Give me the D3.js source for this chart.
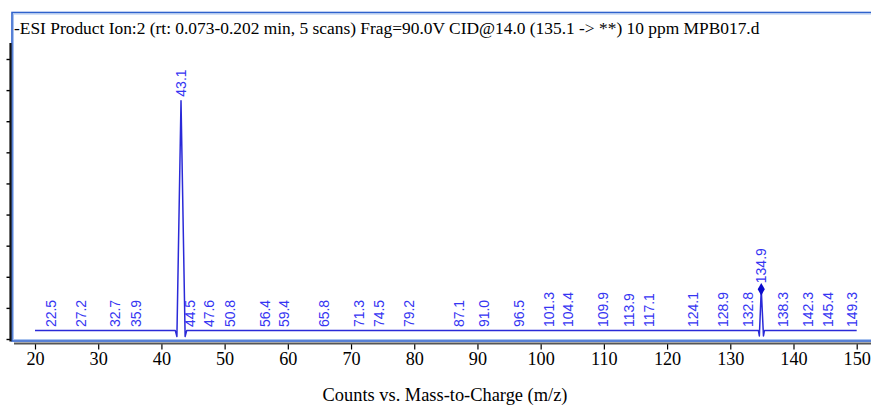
<!DOCTYPE html>
<html>
<head>
<meta charset="utf-8">
<script src="https://cdn.jsdelivr.net/npm/d3@7"></script>
<style>
  html, body { margin: 0; padding: 0; background: #ffffff; }
  svg { display: block; }
</style>
</head>
<body>
<svg id="chart" width="871" height="406"></svg>
<script>
// Product ion spectrum, -ESI, precursor 135.1
const titleText = "-ESI Product Ion:2 (rt: 0.073-0.202 min, 5 scans) Frag=90.0V CID@14.0 (135.1 -> **) 10 ppm MPB017.d";
const xAxisTitle = "Counts vs. Mass-to-Charge (m/z)";

// Profile trace (m/z, counts in arbitrary units)
const profileMz     = [20, 42.2, 42.45, 43.1, 43.75, 44.0, 134.45, 134.6, 134.9, 135.25, 135.4, 150];
const profileCounts = [0.27, 0.27, 0.08, 7.66, 0.08, 0.27, 0.27, 0.1, 1.6, 0.1, 0.27, 0.27];

// Labelled centroid peaks
const peakMz = [22.5, 27.2, 32.7, 35.9, 43.1, 44.5, 47.6, 50.8, 56.4, 59.4, 65.8, 71.3, 74.5, 79.2,
                87.1, 91.0, 96.5, 101.3, 104.4, 109.9, 113.9, 117.1, 124.1, 128.9, 132.8, 134.9,
                138.3, 142.3, 145.4, 149.3];
const peakLabels = ["22.5", "27.2", "32.7", "35.9", "43.1", "44.5", "47.6", "50.8", "56.4", "59.4",
                    "65.8", "71.3", "74.5", "79.2", "87.1", "91.0", "96.5", "101.3", "104.4", "109.9",
                    "113.9", "117.1", "124.1", "128.9", "132.8", "134.9", "138.3", "142.3", "145.4", "149.3"];
const peakCounts = [0.27, 0.27, 0.27, 0.27, 7.66, 0.27, 0.27, 0.27, 0.27, 0.27, 0.27, 0.27, 0.27, 0.27,
                    0.27, 0.27, 0.27, 0.27, 0.27, 0.27, 0.27, 0.27, 0.27, 0.27, 0.27, 1.6,
                    0.27, 0.27, 0.27, 0.27];
// Precursor ion marker
const precursorMz = [134.9];
const precursorCounts = [1.6];

const xTicks = [20, 30, 40, 50, 60, 70, 80, 90, 100, 110, 120, 130, 140, 150];
const yTicks = [0, 1, 2, 3, 4, 5, 6, 7, 8, 9];

const svg = d3.select("#chart");
const W = 871, H = 406;

const x = d3.scaleLinear().domain([20, 150]).range([35, 856.7]);
const y = d3.scaleLinear().domain([0, 9]).range([339, 59]);

const serif = "'Liberation Serif', 'Times New Roman', serif";
const sans = "'Liberation Sans', Arial, sans-serif";

// Plot frame
svg.append("rect")
  .attr("x", 12).attr("y", 12.5).attr("width", W + 10).attr("height", 328.5)
  .attr("fill", "none").attr("stroke", "#2f62cc").attr("stroke-width", 1.6);
svg.append("rect")
  .attr("x", 13.5).attr("y", 14).attr("width", W + 10).attr("height", 325.5)
  .attr("fill", "none").attr("stroke", "#a9c3ee").attr("stroke-width", 1);

// Title
svg.append("text")
  .attr("x", 14).attr("y", 34)
  .attr("font-family", serif).attr("font-size", 17.4)
  .attr("fill", "#000")
  .text(titleText);

// Y axis (unlabelled ticks)
const yAxis = d3.axisLeft(y).tickValues(yTicks).tickSize(4).tickFormat("");
const yg = svg.append("g").attr("transform", "translate(10.5,0)").call(yAxis);
yg.select(".domain").remove();
yg.selectAll(".tick line").attr("stroke", "#000").attr("stroke-width", 1.4);
svg.append("line")
  .attr("x1", 10.5).attr("x2", 10.5).attr("y1", 43).attr("y2", 341.5)
  .attr("stroke", "#111").attr("stroke-width", 2.2);

// X axis
const xAxis = d3.axisBottom(x).tickValues(xTicks).tickSize(6).tickPadding(3).tickFormat(d3.format("d"));
const xg = svg.append("g").attr("transform", "translate(0,343.5)").call(xAxis);
xg.select(".domain").remove();
xg.selectAll(".tick line").attr("stroke", "#000").attr("stroke-width", 1.2);
xg.selectAll(".tick text")
  .attr("font-family", serif).attr("font-size", 18.2).attr("fill", "#000");
svg.append("line")
  .attr("x1", 14).attr("x2", W).attr("y1", 343.5).attr("y2", 343.5)
  .attr("stroke", "#555").attr("stroke-width", 2);

// X axis title
svg.append("text")
  .attr("x", 445).attr("y", 401)
  .attr("text-anchor", "middle")
  .attr("font-family", serif).attr("font-size", 18.4).attr("fill", "#000")
  .text(xAxisTitle);

// Spectrum trace
const profile = profileMz.map((m, i) => [m, profileCounts[i]]);
const line = d3.line().x(d => x(d[0])).y(d => y(d[1]));
svg.append("path")
  .attr("d", line(profile))
  .attr("fill", "none")
  .attr("stroke", "#2a2ad8")
  .attr("stroke-width", 1.5)
  .attr("stroke-linejoin", "round");

// Precursor diamond
svg.selectAll(".prec")
  .data(precursorMz.map((m, i) => [m, precursorCounts[i]]))
  .join("path")
  .attr("class", "prec")
  .attr("transform", d => `translate(${x(d[0])},${y(d[1])})`)
  .attr("d", d3.symbol(d3.symbolDiamond, 44)())
  .attr("fill", "#0a0acc");

// Peak labels, rotated
const peaks = peakMz.map((m, i) => ({ mz: m, c: peakCounts[i], label: peakLabels[i] }));
svg.selectAll(".plabel")
  .data(peaks)
  .join("text")
  .attr("class", "plabel")
  .attr("transform", d => {
    const gap = d.mz === 134.9 ? 6 : (d.mz === 43.1 ? 4 : 3.5);
    return `translate(${x(d.mz)},${y(d.c) - gap}) rotate(-90)`;
  })
  .attr("dominant-baseline", "central")
  .attr("font-family", sans)
  .attr("font-size", 14)
  .attr("fill", "#3535f2")
  .text(d => d.label);
</script>
</body>
</html>
